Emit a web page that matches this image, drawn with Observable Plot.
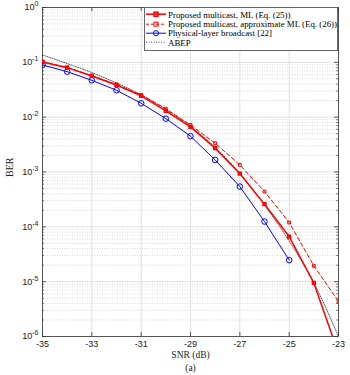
<!DOCTYPE html>
<html><head><meta charset="utf-8">
<script src="https://cdn.jsdelivr.net/npm/d3@7"></script>
<script src="https://cdn.jsdelivr.net/npm/@observablehq/plot@0.6"></script>
<style>
body{margin:0;background:#fff}
#wrap{position:relative;width:350px;height:375px}
#legend{position:absolute;left:144px;top:7px;width:192px;height:40px;border:1px solid #666;background:#fff;padding-top:2px;box-sizing:content-box}
.row{height:9.3px;display:flex;align-items:center;font-family:"Liberation Serif";font-size:8.9px;color:#000;white-space:nowrap}
.row svg{margin-left:1px;margin-right:2px;flex:none}
</style>
</head><body><div id="wrap"><div id="legend"></div></div>
<script>
// ---- data ----
const snr = [-35,-34,-33,-32,-31,-30,-29,-28,-27,-26,-25,-24,-23];
const berML = [0.1016,0.080,0.0565,0.0387,0.0244,0.0130,0.00664,0.00272,0.000935,0.000259,6.65e-5,9.5e-6,4.9e-7];
const berApproxML = [0.1025,0.081,0.0572,0.0395,0.0255,0.0143,0.0072,0.00335,0.00135,0.00044,1.2e-4,1.95e-5,4.35e-6];
const snrBroadcast = [-35,-34,-33,-32,-31,-30,-29,-28,-27,-26,-25];
const berBroadcast = [0.0895,0.0676,0.047,0.031,0.0179,0.0094,0.0045,0.00166,0.000542,0.000125,2.47e-5];
const berABEP = [0.136,0.095,0.065,0.042,0.0255,0.0138,0.0068,0.0028,0.00095,0.00025,5.5e-5,9.5e-6,1.0e-6];
const xTicks = [-35,-33,-31,-29,-27,-25,-23];
const yTicks = [1e-6,1e-5,1e-4,1e-3,1e-2,1e-1,1];
const minorMult = [2,3,4,5,6,7,8,9];
const seriesNames = [
  "Proposed multicast, ML (Eq. (25))",
  "Proposed multicast, approximate ML (Eq. (26))",
  "Physical-layer broadcast [22]",
  "ABEP"
];
const xLabel = "SNR (dB)", yLabel = "BER", caption = "(a)";

// ---- derived tables ----
const mk = (xs, ys) => xs.map((x,i)=>({x, y: ys[i]}));
const dML = mk(snr, berML), dAp = mk(snr, berApproxML), dBr = mk(snrBroadcast, berBroadcast), dAb = mk(snr, berABEP);
const minorY = yTicks.slice(0,-1).flatMap(d => minorMult.map(k => k*d));
const expOf = d => String(Math.round(Math.log10(d)));

const W=350,H=375,mL=42,mR=12,mT=7,mB=39;
const pW=W-mL-mR, pH=H-mT-mB;
const RED="#ff0000", BLUE="#0000ff", AX="#333";

const chart = Plot.plot({
  width:W, height:H, marginLeft:mL, marginRight:mR, marginTop:mT, marginBottom:mB,
  style:{fontFamily:"Liberation Sans", fontSize:"9px", background:"#fff", color:"#222"},
  x:{domain:[-35,-23]},
  y:{type:"log", domain:[1e-6,1]},
  marks:[
    Plot.ruleY(minorY, {stroke:"#c8c8c8", strokeDasharray:"1,1.5", strokeWidth:0.7}),
    Plot.ruleY(yTicks, {stroke:"#e0e0e0", strokeWidth:1}),
    Plot.ruleX(xTicks, {stroke:"#e0e0e0", strokeWidth:1}),
    // inward ticks
    Plot.ruleX(xTicks, {insetTop:pH-4, stroke:AX, strokeWidth:0.8}),
    Plot.ruleX(xTicks, {insetBottom:pH-4, stroke:AX, strokeWidth:0.8}),
    Plot.ruleY(yTicks, {insetRight:pW-4, stroke:AX, strokeWidth:0.8}),
    Plot.ruleY(yTicks, {insetLeft:pW-4, stroke:AX, strokeWidth:0.8}),
    Plot.ruleY(minorY, {insetRight:pW-2, stroke:AX, strokeWidth:0.6}),
    Plot.ruleY(minorY, {insetLeft:pW-2, stroke:AX, strokeWidth:0.6}),
    Plot.frame({stroke:AX, strokeWidth:0.8}),
    Plot.axisX(xTicks, {tickSize:0, tickPadding:4, tickFormat:d=>String(d), label:null, fill:"#222"}),
    Plot.axisY(yTicks, {tickSize:0, tickPadding:4, tickFormat:expOf, label:null, fill:"#222"}),
    // series
    Plot.line(dAb, {x:"x", y:"y", stroke:"#000", strokeWidth:0.7, strokeDasharray:"1,1.5", curve:"monotone-x", clip:"frame"}),
    Plot.line(dBr, {x:"x", y:"y", stroke:BLUE, strokeWidth:1, clip:"frame"}),
    Plot.dot(dBr, {x:"x", y:"y", r:2.8, stroke:BLUE, fill:"none", strokeWidth:1, clip:"frame"}),
    Plot.line(dAp, {x:"x", y:"y", stroke:RED, strokeWidth:1, strokeDasharray:"4,2.5", clip:"frame"}),
    Plot.dot(dAp, {x:"x", y:"y", r:1.6, symbol:"square", stroke:RED, fill:"none", strokeWidth:1, clip:"frame"}),
    Plot.line(dML, {x:"x", y:"y", stroke:RED, strokeWidth:1.5, clip:"frame"}),
    Plot.dot(dML, {x:"x", y:"y", r:1.6, symbol:"square", stroke:RED, fill:"none", strokeWidth:1.5, clip:"frame"}),
    // labels
    Plot.text([xLabel], {frameAnchor:"bottom", dy:21, text:d=>d, fontFamily:"Liberation Serif", fontSize:9.5, fill:"#222"}),
    Plot.text([caption], {frameAnchor:"bottom", dy:34, text:d=>d, fontFamily:"Liberation Serif", fontSize:9.5, fill:"#222"}),
    Plot.text([yLabel], {frameAnchor:"left", dx:-33, dy:5, rotate:-90, text:d=>d, fontFamily:"Liberation Serif", fontSize:10, fill:"#222"})
  ]
});
document.getElementById("wrap").prepend(chart);

// y tick labels as 10 with a raised exponent
d3.select(chart).selectAll('g[aria-label="y-axis tick label"] text').each(function(){
  const e = this.textContent.replace("\u2212","-");
  const t = d3.select(this);
  t.text("10");
  t.append("tspan").attr("dy","-4").attr("font-size","7px").text(e);
});

// ---- legend ----
const styles = [
  {stroke:RED, w:1.5, dash:null, marker:"square"},
  {stroke:RED, w:1, dash:"3,2", marker:"square"},
  {stroke:BLUE, w:1, dash:null, marker:"circle"},
  {stroke:"#000", w:0.7, dash:"1,1.5", marker:null}
];
const leg = document.getElementById("legend");
seriesNames.forEach((name,i)=>{
  const s = styles[i];
  const row = document.createElement("div"); row.className="row";
  let m = "";
  if (s.marker==="square") m = `<rect x="8" y="2.2" width="4" height="4" fill="none" stroke="${s.stroke}" stroke-width="${s.w}"/>`;
  if (s.marker==="circle") m = `<circle cx="10" cy="4.2" r="2.6" fill="none" stroke="${s.stroke}" stroke-width="1"/>`;
  row.innerHTML = `<svg width="20" height="8.4"><line x1="0" x2="20" y1="4.2" y2="4.2" stroke="${s.stroke}" stroke-width="${s.w}" ${s.dash?`stroke-dasharray="${s.dash}"`:""}/>${m}</svg><span>${name}</span>`;
  leg.appendChild(row);
});
</script>
</body></html>
